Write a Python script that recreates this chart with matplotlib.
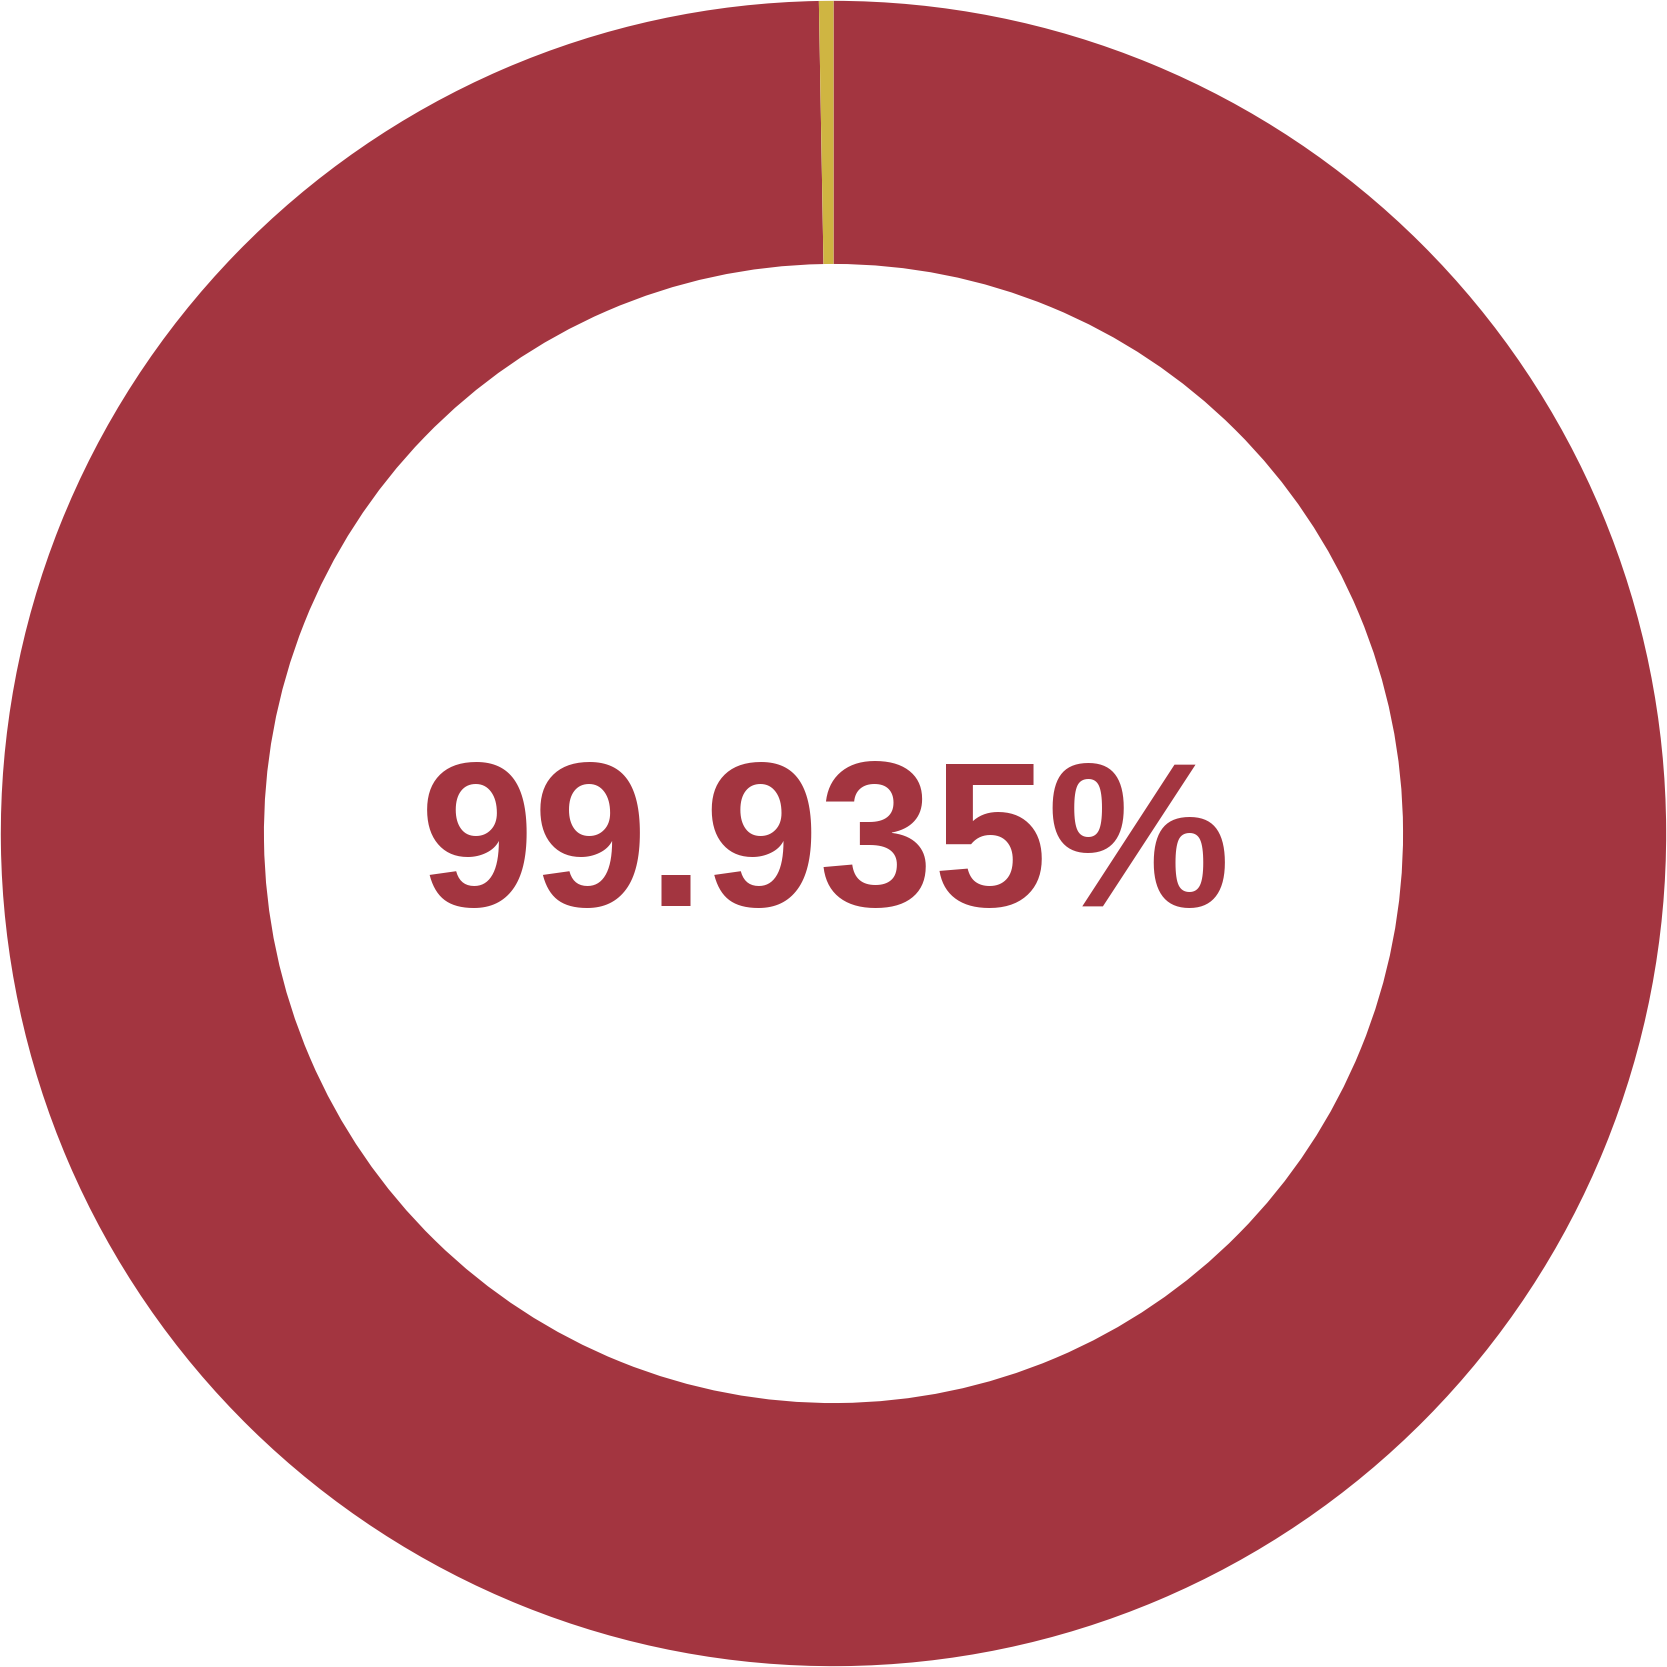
import matplotlib.pyplot as plt

# slice shares as drawn (yellow sliver ~1 degree wide in the picture)
labels = ['main', 'rest']
shares = [99.72, 0.28]
colors = ['#a33540', '#cfb542']
center_text = '99.935%'

fig = plt.figure(figsize=(16.67, 16.67), dpi=100)
ax = fig.add_axes([0, 0, 1, 1])

ax.pie(shares, colors=colors, startangle=90, counterclock=False,
       radius=1.0, wedgeprops=dict(width=0.316, linewidth=0))

ax.text(-0.01, -0.024, center_text, ha='center', va='center',
        fontsize=148, fontweight='bold', color=colors[0],
        family=['Liberation Sans', 'DejaVu Sans'])

ax.set_xlim(-1.001, 1.001)
ax.set_ylim(-1.001, 1.001)
ax.set_aspect('equal')
ax.axis('off')

fig.savefig('out.png', dpi=100, facecolor='white')
